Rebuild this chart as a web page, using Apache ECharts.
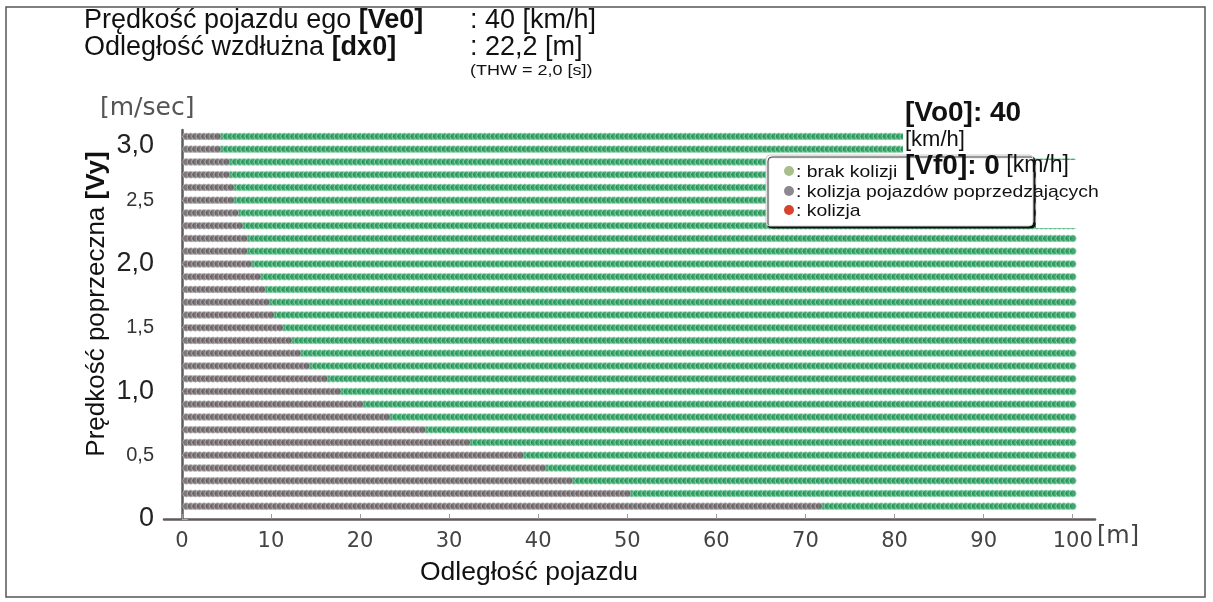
<!DOCTYPE html>
<html><head><meta charset="utf-8">
<script src="https://cdn.jsdelivr.net/npm/echarts@6/dist/echarts.min.js"></script>
<style>html,body{margin:0;padding:0;background:#fff}#c{width:1213px;height:602px}</style>
</head><body><div id="c"></div>
<script>
// Rows of lateral speed Vy [m/s]
const vyRows = [3.0, 2.9, 2.8, 2.7, 2.6, 2.5, 2.4, 2.3, 2.2, 2.1, 2.0, 1.9, 1.8, 1.7, 1.6,
                1.5, 1.4, 1.3, 1.2, 1.1, 1.0, 0.9, 0.8, 0.7, 0.6, 0.5, 0.4, 0.3, 0.2, 0.1];
// Distance [m] at which "brak kolizji" (green) begins for each row
const greenStart = [4.5, 4.5, 5.4, 5.4, 5.6, 5.6, 6.5, 6.6, 7.5, 7.5, 7.7, 8.6, 9.5, 9.6, 10.4,
                    11.5, 12.5, 13.5, 14.2, 16.5, 17.8, 20.4, 23.4, 27.5, 32.4, 38.3, 40.6, 43.6, 50.5, 71.6];
// Simulation grid of distances
const xFirst = 0.5, xLast = 100, xStep = 0.5;
const xTickValues = [0, 10, 20, 30, 40, 50, 60, 70, 80, 90, 100];
const yTickValues = [0, 0.5, 1.0, 1.5, 2.0, 2.5, 3.0];
const seriesNames = ['brak kolizji', 'kolizja pojazdów poprzedzających', 'kolizja'];
const legendColors = ['#a8bf8c', '#8d8790', '#d9432e'];

const greenPts = [], greyPts = [], redPts = [];
vyRows.forEach((vy, i) => {
  for (let k = 0; xFirst + k * xStep <= xLast + 1e-9; k++) {
    const x = +(xFirst + k * xStep).toFixed(2);
    if (x < greenStart[i]) greyPts.push([x, vy]); else greenPts.push([x, vy]);
  }
});

const chart = echarts.init(document.getElementById('c'), null, {renderer: 'canvas'});
const SANS = '"Liberation Sans", Arial, sans-serif';
const VERD = '"DejaVu Sans", Verdana, sans-serif';
const ZL = 5;

function txt(x, y, text, size, opts) {
  opts = opts || {};
  return {type: 'text', zlevel: ZL, z: 101, x: x, y: y, scaleX: opts.sx || 1, rotation: opts.rot || 0,
    style: Object.assign({text: text, fontFamily: opts.font || SANS, fontSize: size,
      fontWeight: opts.bold ? 'bold' : 'normal', fill: opts.fill || '#111',
      align: opts.align || 'left', verticalAlign: 'middle'}, opts.rich ? {rich: opts.rich} : {})};
}
const boldRich = s => ({b: {fontFamily: SANS, fontSize: s, fontWeight: 'bold', fill: '#111'}});

const legendEls = [
  {type: 'rect', zlevel: ZL, z: 100, shape: {x: 766, y: 155, width: 267, height: 71, r: 4},
   style: {fill: '#ffffff', stroke: '#cfcfcf', lineWidth: 1, shadowColor: 'rgba(0,0,0,0.9)',
           shadowOffsetX: 2, shadowOffsetY: 2, shadowBlur: 1}},
  {type: 'rect', zlevel: ZL, z: 99, shape: {x: 1036, y: 160, width: 46, height: 68}, style: {fill: '#ffffff'}}
];
seriesNames.forEach((n, i) => {
  const yy = [172, 192, 211][i];
  legendEls.push({type: 'circle', zlevel: ZL, z: 102, shape: {cx: 789, cy: yy - 1, r: 5}, style: {fill: legendColors[i]}});
  legendEls.push(txt(796, yy, ': ' + n, 17, {sx: 1.14}));
});

chart.setOption({
  animation: false,
  backgroundColor: '#fff',
  grid: {left: 164, right: 118, top: 130, bottom: 83},
  xAxis: {
    type: 'value', min: -2, max: 102.5,
    splitLine: {show: false},
    axisLine: {lineStyle: {color: '#605a5c', width: 2.5}},
    axisTick: {show: true, inside: true, length: 5, customValues: xTickValues, lineStyle: {color: '#9a9a9a'}},
    axisLabel: {customValues: xTickValues, margin: 12, color: '#444', fontFamily: VERD, fontSize: 21}
  },
  yAxis: {
    type: 'value', min: 0, max: 3.05,
    splitLine: {show: false},
    axisLine: {show: true, lineStyle: {color: '#605a5c', width: 2.5}},
    axisTick: {show: true, inside: true, length: 6, customValues: yTickValues, lineStyle: {color: '#aaa'}},
    axisLabel: {
      customValues: yTickValues, margin: 10,
      formatter: v => {
        const s = v === 0 ? '0' : v.toFixed(1).replace('.', ',');
        if (Math.abs(v - 3) < 1e-6) return '{top|' + s + '}';
        return (Math.abs(v - Math.round(v)) < 1e-6) ? '{big|' + s + '}' : '{small|' + s + '}';
      },
      rich: {
        big: {fontFamily: SANS, fontSize: 27, color: '#222'},
        top: {fontFamily: SANS, fontSize: 27, color: '#222', padding: [18, 0, 0, 0]},
        small: {fontFamily: SANS, fontSize: 20, color: '#333'}
      }
    }
  },
  series: [
    {name: seriesNames[0], type: 'scatter', data: greenPts, symbolSize: 7, z: 1, zlevel: 0,
     large: false, progressive: 0, progressiveThreshold: 1e6,
     itemStyle: {color: '#17904f', borderColor: 'rgba(175,228,195,0.9)', borderWidth: 1}},
    {name: seriesNames[1], type: 'scatter', data: greyPts, symbolSize: 7, z: 1, zlevel: 0,
     large: false, progressive: 0, progressiveThreshold: 1e6,
     itemStyle: {color: '#5f575b', borderColor: 'rgba(200,195,198,0.9)', borderWidth: 1}},
    {name: seriesNames[2], type: 'scatter', data: redPts, symbolSize: 7, z: 1, zlevel: 0,
     itemStyle: {color: '#d9432e'}}
  ],
  graphic: {elements: [
    {type: 'rect', zlevel: ZL, z: 100, shape: {x: 6, y: 7, width: 1199, height: 590},
     style: {fill: 'none', stroke: '#555', lineWidth: 1.5}},
    {type: 'rect', zlevel: ZL, z: 99, shape: {x: 903, y: 124, width: 180, height: 32}, style: {fill: '#ffffff'}},
    txt(84, 21, 'Prędkość pojazdu ego {b|[Ve0]}', 27, {rich: boldRich(27)}),
    txt(470, 21, ': 40 [km/h]', 27),
    txt(84, 48, 'Odległość wzdłużna {b|[dx0]}', 27, {rich: boldRich(27)}),
    txt(470, 48, ': 22,2 [m]', 27),
    txt(470, 71, '(THW = 2,0 [s])', 15, {sx: 1.2}),
    txt(100, 108, '[m/sec]', 25, {font: VERD, fill: '#555'}),
    txt(905, 113, '[Vo0]: 40', 28, {bold: true}),
    txt(905, 140, '[km/h]', 22),
    txt(905, 166, '[Vf0]: 0{r| [km/h]}', 28, {bold: true,
      rich: {r: {fontFamily: SANS, fontSize: 23, fontWeight: 'normal', fill: '#111'}}}),
    txt(1097, 537, '[m]', 24, {font: VERD, fill: '#444'}),
    txt(529, 573, 'Odległość pojazdu', 26.5, {align: 'center'}),
    txt(97, 304, 'Prędkość poprzeczna {b|[Vy]}', 26, {align: 'center', rot: Math.PI / 2, rich: boldRich(26)})
  ].concat(legendEls)}
});
</script></body></html>
